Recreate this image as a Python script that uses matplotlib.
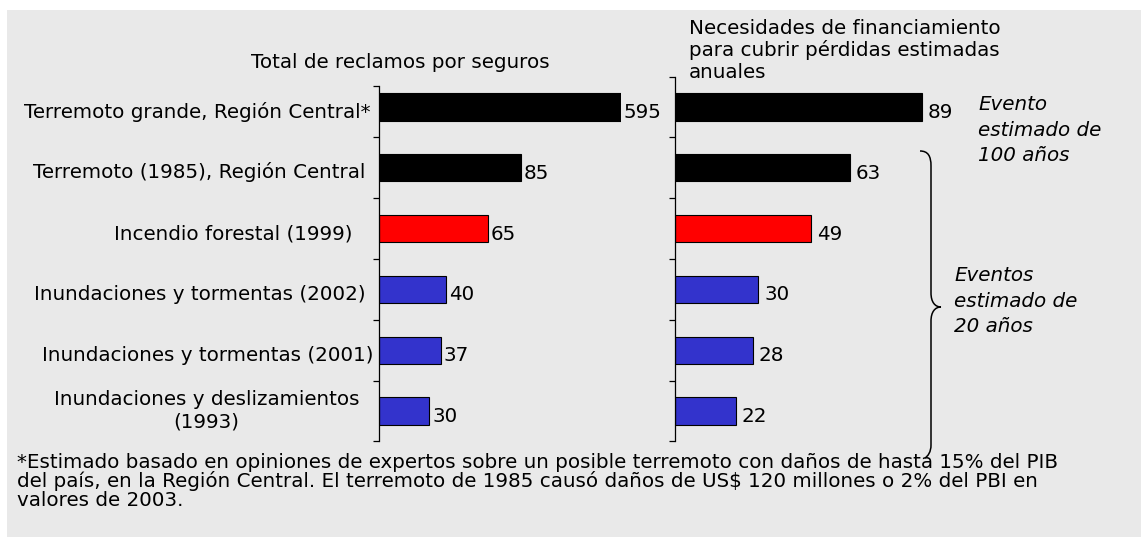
import matplotlib
matplotlib.use("Agg")
import matplotlib.pyplot as plt
from matplotlib.patches import Rectangle, PathPatch
from matplotlib.path import Path

# ---------------- data ----------------
categories = [
    "Terremoto grande, Región Central*",
    "Terremoto (1985), Región Central",
    "Incendio forestal (1999)",
    "Inundaciones y tormentas (2002)",
    "Inundaciones y tormentas (2001)",
    "Inundaciones y deslizamientos\n(1993)",
]
reclamos = [595, 85, 65, 40, 37, 30]
financiamiento = [89, 63, 49, 30, 28, 22]
bar_colors = ["#000000", "#000000", "#ff0000", "#3333cc", "#3333cc", "#3333cc"]

title_left = "Total de reclamos por seguros"
title_right = "Necesidades de financiamiento\npara cubrir pérdidas estimadas\nanuales"
note_100 = "Evento\nestimado de\n100 años"
note_20 = "Eventos\nestimado de\n20 años"
footnote = ("*Estimado basado en opiniones de expertos sobre un posible terremoto con daños de hasta 15% del PIB\n"
            "del país, en la Región Central. El terremoto de 1985 causó daños de US$ 120 millones o 2% del PBI en\n"
            "valores de 2003.")

# ---------------- layout ----------------
W, H, DPI = 1143, 537, 100
FONT = "DejaVu Sans"
FS = 14.3
BG = "#e9e9e9"
plt.rcParams["font.family"] = [FONT]

fig = plt.figure(figsize=(W / DPI, H / DPI), dpi=DPI, facecolor="white")

bg = fig.add_axes([0, 0, 1, 1], zorder=0)
bg.set_xlim(0, W)
bg.set_ylim(H, 0)
bg.axis("off")
bg.add_patch(Rectangle((7, 10), 1134, 527, facecolor=BG, edgecolor="none"))


def axes_rect(x0, x1, y0, y1):
    return [x0 / W, 1 - y1 / H, (x1 - x0) / W, (y1 - y0) / H]


PX2PT = 72.0 / DPI
ypos = list(range(len(categories)))
bar_h = 0.45

ax1 = fig.add_axes(axes_rect(379, 620.5, 76.6, 441.4), zorder=2)
ax2 = fig.add_axes(axes_rect(675, 952, 76.6, 441.4), zorder=2)

left_xmax = 144.5
right_xmax = 100

for ax, vals, xmax, top_bound, vpad in (
    (ax1, reclamos, left_xmax, -0.345, 3),
    (ax2, financiamiento, right_xmax, -0.5, 6),
):
    ax.set_facecolor("none")
    ax.barh(ypos, vals, height=bar_h, color=bar_colors, edgecolor="black", linewidth=0.8)
    ax.set_xlim(0, xmax)
    ax.set_ylim(len(categories) - 0.5, -0.5)
    for s in ("top", "right", "bottom"):
        ax.spines[s].set_visible(False)
    ax.spines["left"].set_linewidth(0.9)
    ax.spines["left"].set_bounds(top_bound, len(categories) - 0.5)
    ax.set_xticks([])
    ax.set_yticks([top_bound] + [i + 0.5 for i in ypos])
    ax.set_yticklabels([])
    ax.tick_params(axis="y", direction="out", length=4, width=0.9, color="black")
    for i, v in enumerate(vals):
        ax.annotate(f"{v}", xy=(min(v, xmax), i), xytext=(vpad * PX2PT, -11 * PX2PT),
                    textcoords="offset points", ha="left", va="baseline",
                    fontsize=FS, color="black", annotation_clip=False)

# category labels (left of left axis)
label_pad = [9, 14, 26, 13, 6, 20]
for i, lab in enumerate(categories):
    n_extra = lab.count("\n")
    # baseline (last line) offset below the bar centre, in pixels
    base_off = 10.5 if n_extra == 0 else 16
    ax1.annotate(lab, xy=(0, i), xytext=(-label_pad[i] * PX2PT, -base_off * PX2PT),
                 textcoords="offset points", ha="right", va="baseline",
                 multialignment="center", fontsize=FS, linespacing=1.23,
                 annotation_clip=False)

# titles and notes (y = baseline of the last line, in pixels from top)
bg.text(400, 68, title_left, ha="center", va="baseline", fontsize=FS)
bg.text(689, 78, title_right, ha="left", va="baseline", fontsize=FS, linespacing=1.17)
bg.text(978, 161, note_100, ha="left", va="baseline", fontsize=FS, style="italic", linespacing=1.43)
bg.text(954, 332, note_20, ha="left", va="baseline", fontsize=FS, style="italic", linespacing=1.43)
bg.text(17, 506, footnote, ha="left", va="baseline", fontsize=FS, linespacing=0.97, zorder=3)

# brace
verts = [
    (920, 151), (928, 151), (931, 156), (931, 166),
    (931, 293),
    (931, 302), (935, 307), (941, 307),
    (935, 307), (931, 312), (931, 321),
    (931, 445),
    (931, 452), (928, 456), (925, 458),
]
codes = [Path.MOVETO, Path.CURVE4, Path.CURVE4, Path.CURVE4,
         Path.LINETO,
         Path.CURVE4, Path.CURVE4, Path.CURVE4,
         Path.CURVE4, Path.CURVE4, Path.CURVE4,
         Path.LINETO,
         Path.CURVE4, Path.CURVE4, Path.CURVE4]
bg.add_patch(PathPatch(Path(verts, codes), facecolor="none", edgecolor="black", linewidth=1.1, zorder=4))

fig.savefig("out.png", dpi=DPI, facecolor="white")
